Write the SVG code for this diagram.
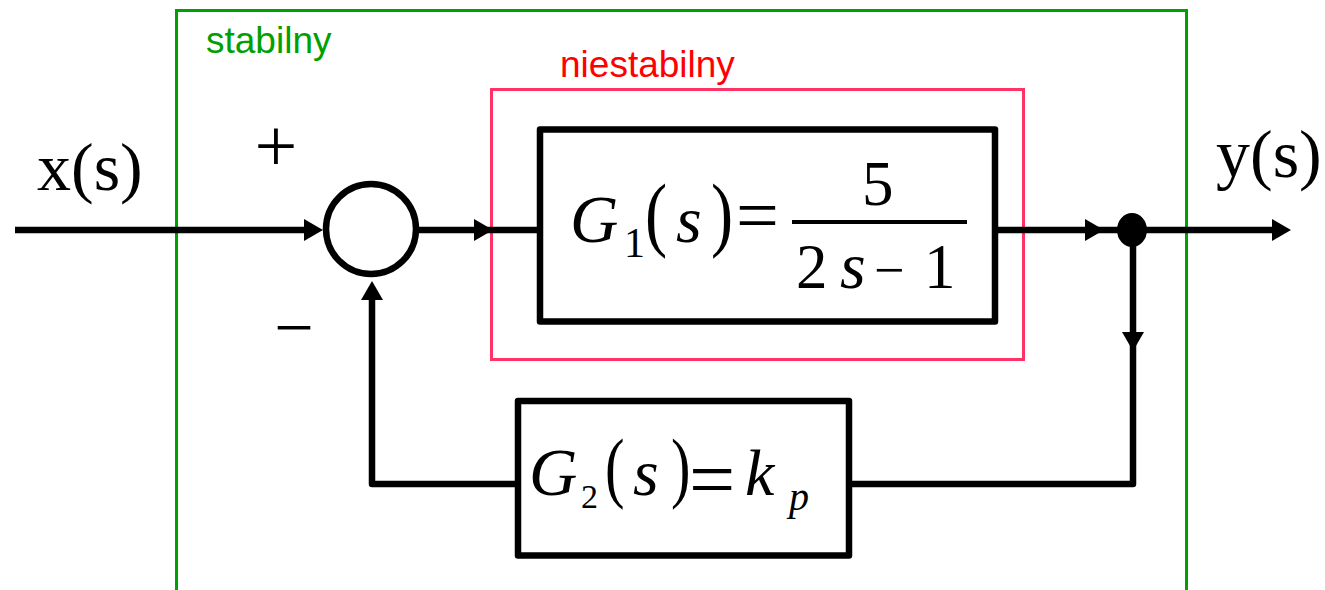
<svg xmlns="http://www.w3.org/2000/svg" width="1325" height="590" viewBox="0 0 1325 590">
<style>
.ln{fill:none;stroke:#000;stroke-width:6.5;stroke-linejoin:round}
.box{fill:#fff;stroke:#000;stroke-width:6.5;stroke-linejoin:round}
.m{font-family:"Liberation Serif","Times New Roman",serif;fill:#000}
.i{font-style:italic}
.lbl{font-family:"Liberation Sans",Arial,sans-serif;font-size:37px}
</style>
<defs>
<path id="ah" d="M0,0 L-19,-11 L-19,11 Z" fill="#000"/>
</defs>
<g id="stable-region">
<rect x="176.5" y="10.5" width="1010" height="600" fill="none" stroke="#00A000" stroke-width="3"/>
<text class="lbl" x="206" y="53" fill="#00A000">stabilny</text>
</g>
<g id="unstable-region">
<rect x="491.5" y="89.5" width="532" height="270" fill="none" stroke="#FF3366" stroke-width="3"/>
<text class="lbl" x="560" y="77" fill="#FF0000">niestabilny</text>
</g>
<g id="connectors">
<path class="ln" d="M15,230 H312"/>
<use href="#ah" transform="translate(323,230)"/>
<path class="ln" d="M418,230 H540"/>
<use href="#ah" transform="translate(493,230)"/>
<path class="ln" d="M996,230 H1280"/>
<use href="#ah" transform="translate(1104,230)"/>
<use href="#ah" transform="translate(1291,230)"/>
<path class="ln" d="M1133,230 V484 H849"/>
<use href="#ah" transform="translate(1133,351) rotate(90)"/>
<path class="ln" d="M518,484 H372 V292"/>
<use href="#ah" transform="translate(372,281) rotate(-90)"/>
</g>
<g id="input-label">
<text class="m" x="37" y="190" font-size="68">x(s)</text>
</g>
<g id="output-label">
<text class="m" x="1216" y="177" font-size="68">y(s)</text>
</g>
<g id="sum">
<circle cx="371" cy="229" r="45" fill="#fff" stroke="#000" stroke-width="6.5"/>
<text class="m" x="276" y="171" font-size="76" text-anchor="middle">+</text>
<text class="m" x="294" y="351" font-size="70" text-anchor="middle">−</text>
</g>
<g id="junction">
<ellipse cx="1132" cy="230" rx="15" ry="17" fill="#000"/>
</g>
<g id="G1">
<rect class="box" x="540" y="129.5" width="455" height="192"/>
<text class="m i" x="570" y="242" font-size="67">G</text>
<text class="m" x="624" y="257" font-size="42">1</text>
<text class="m" transform="translate(645,241) scale(0.8,1)" font-size="83">(</text>
<text class="m i" x="676" y="242" font-size="66">s</text>
<text class="m" transform="translate(711,241) scale(0.8,1)" font-size="83">)</text>
<text class="m" x="736" y="241" font-size="76">=</text>
<rect x="792" y="220" width="175" height="4" fill="#000"/>
<text class="m" x="862" y="205" font-size="63">5</text>
<text class="m" x="796" y="288" font-size="63">2</text>
<text class="m i" x="840" y="288" font-size="66">s</text>
<text class="m" x="874" y="288" font-size="54">−</text>
<text class="m" x="924" y="288" font-size="63">1</text>
</g>
<g id="G2">
<rect class="box" x="518" y="401" width="331" height="154.5"/>
<text class="m i" x="529" y="495" font-size="67">G</text>
<text class="m" x="581" y="508" font-size="34">2</text>
<text class="m" transform="translate(605,493) scale(0.75,1)" font-size="78">(</text>
<text class="m i" x="633" y="495" font-size="66">s</text>
<text class="m" transform="translate(671,493) scale(0.75,1)" font-size="78">)</text>
<text class="m" x="689" y="507" font-size="82">=</text>
<text class="m i" x="745" y="495" font-size="66">k</text>
<text class="m i" x="789" y="510" font-size="40">p</text>
</g>
</svg>
